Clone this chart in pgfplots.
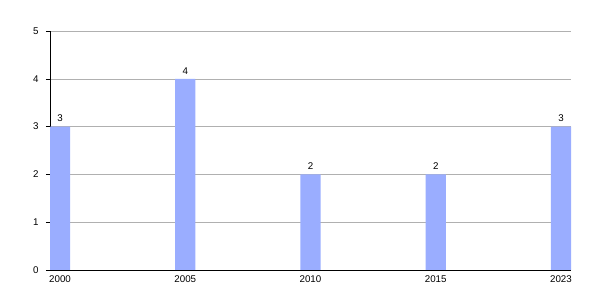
\documentclass[border=0pt]{standalone}
\usepackage{pgfplots}
\pgfplotsset{compat=1.18}
\usepackage{fontspec}
\setmainfont{Liberation Sans}
\definecolor{barblue}{HTML}{9AADFF}
\definecolor{gridgray}{HTML}{B0B0B0}
\begin{document}
\begin{tikzpicture}
\useasboundingbox (-50bp,-30bp) rectangle (550bp,270bp);
\begin{axis}[
  scale only axis,
  width=521bp, height=239bp,
  xmin=-0.08, xmax=4.08,
  ymin=0, ymax=5,
  ytick={0,1,2,3,4,5},
  xtick={0,1,2,3,4},
  xticklabels={2000,2005,2010,2015,2023},
  axis x line*=bottom,
  axis y line*=left,
  axis line style={black, line width=0.8pt, -},
  ymajorgrids,
  grid style={gridgray, line width=0.6pt},
  major x tick style={draw=none},
  major y tick style={black, line width=0.6pt},
  tick align=outside,
  major tick length=4bp,
  tick label style={font=\fontsize{9.8}{11}\selectfont},
  /pgf/number format/assume math mode=true,
  yticklabel style={xshift=-4bp},
  xticklabel style={yshift=2bp},
  clip=true,
]
\addplot[ybar, bar width=0.16, fill=barblue, draw=none,
  nodes near coords,
  nodes near coords style={font=\fontsize{9.8}{11}\selectfont, black, yshift=1bp},
  point meta=y]
  coordinates {(0,3) (1,4) (2,2) (3,2) (4,3)};
\end{axis}
\end{tikzpicture}
\end{document}
